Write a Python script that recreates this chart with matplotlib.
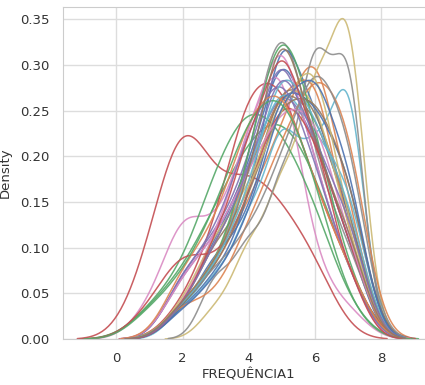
import numpy as np
import matplotlib
matplotlib.use("Agg")
import matplotlib.pyplot as plt
import seaborn as sns

# Frequency values observed (x) and per-group counts of each value
VALUES = [0, 1, 2, 3, 4, 5, 6, 7]

serie_00 = [0, 0, 1, 3, 5, 9, 6, 3]
serie_01 = [0, 0, 1, 2, 4, 6, 9, 4]
serie_02 = [0, 1, 2, 4, 6, 7, 5, 2]
serie_03 = [0, 2, 6, 3, 4, 3, 2, 0]
serie_04 = [0, 0, 2, 3, 5, 8, 6, 3]
serie_05 = [0, 0, 1, 3, 5, 8, 7, 4]
serie_06 = [0, 1, 4, 3, 6, 9, 2, 1]
serie_07 = [0, 0, 1, 2, 5, 11, 5, 3]
serie_08 = [0, 0, 0, 1, 3, 5, 8, 11]
serie_09 = [0, 0, 1, 2, 4, 7, 6, 9]
serie_10 = [0, 0, 1, 2, 4, 10, 7, 4]
serie_11 = [0, 0, 1, 2, 5, 7, 8, 3]
serie_12 = [0, 1, 2, 5, 7, 6, 4, 1]
serie_13 = [0, 0, 1, 3, 7, 7, 4, 2]
serie_14 = [0, 0, 2, 3, 5, 9, 5, 2]
serie_15 = [0, 0, 1, 3, 4, 8, 7, 4]
serie_16 = [0, 0, 1, 3, 6, 9, 5, 2]
serie_17 = [0, 0, 0, 2, 3, 5, 9, 9]
serie_18 = [0, 0, 1, 3, 4, 7, 7, 3]
serie_19 = [0, 0, 1, 2, 5, 8, 6, 5]
serie_20 = [0, 0, 1, 3, 4, 9, 8, 6]
serie_21 = [0, 0, 1, 1, 3, 5, 7, 6]
serie_22 = [0, 0, 1, 2, 5, 10, 6, 2]
serie_23 = [0, 1, 3, 2, 4, 8, 6, 3]
serie_24 = [0, 0, 2, 3, 6, 8, 5, 2]
serie_25 = [0, 0, 1, 2, 4, 7, 7, 5]
serie_26 = [0, 0, 2, 3, 5, 7, 7, 3]
serie_27 = [0, 0, 1, 2, 3, 5, 8, 6]
serie_28 = [0, 0, 1, 2, 4, 6, 8, 3]
serie_29 = [0, 0, 1, 2, 4, 8, 6, 4]
serie_30 = [0, 0, 1, 2, 4, 8, 9, 6]
serie_31 = [0, 0, 2, 3, 6, 7, 4, 2]
serie_32 = [0, 1, 2, 4, 7, 8, 5, 1]
serie_33 = [0, 0, 1, 3, 6, 9, 6, 2]
serie_34 = [0, 0, 1, 3, 5, 9, 6, 4]
serie_35 = [0, 0, 1, 2, 4, 9, 5, 3]

BW_ADJUST = [0.85, 0.85, 0.9, 0.85, 0.85, 0.85, 0.8, 1.0, 0.85, 0.7,
             0.85, 0.85, 0.9, 0.95, 0.85, 0.85, 0.85, 0.75, 0.85, 0.85,
             0.85, 0.85, 1.0, 0.8, 0.85, 0.85, 0.85, 0.8, 0.85, 0.85,
             0.85, 0.85, 0.9, 0.85, 0.85, 0.85]

SERIES = [serie_00, serie_01, serie_02, serie_03, serie_04, serie_05,
          serie_06, serie_07, serie_08, serie_09, serie_10, serie_11,
          serie_12, serie_13, serie_14, serie_15, serie_16, serie_17,
          serie_18, serie_19, serie_20, serie_21, serie_22, serie_23,
          serie_24, serie_25, serie_26, serie_27, serie_28, serie_29,
          serie_30, serie_31, serie_32, serie_33, serie_34, serie_35]

X_TICKS = [0, 2, 4, 6, 8]
Y_TICKS = [0.00, 0.05, 0.10, 0.15, 0.20, 0.25, 0.30, 0.35]

sns.set_style("whitegrid")
plt.rcParams['font.family'] = ['DejaVu Sans']
plt.rcParams['font.size'] = 9.5

palette = sns.color_palette("deep", 10)

fig = plt.figure(figsize=(4.25, 3.85), dpi=100)
ax = fig.add_axes([0.148, 0.119, 0.873, 0.863])

for i, counts in enumerate(SERIES):
    samples = np.repeat(VALUES, counts)
    sns.kdeplot(x=samples, bw_adjust=BW_ADJUST[i], color=palette[i % 10],
                linewidth=1.1, alpha=0.9, ax=ax)

ax.set_xlim(-1.62, 9.6)
ax.set_ylim(0, 0.3635)
ax.set_xticks(X_TICKS)
ax.set_yticks(Y_TICKS)
ax.set_yticklabels([f"{v:.2f}" for v in Y_TICKS])
ax.tick_params(labelsize=9.5, colors="#333333", pad=6)
ax.set_xlabel("FREQUÊNCIA1", fontsize=9.5, color="#333333", labelpad=2)
ax.set_ylabel("Density", fontsize=9.5, color="#333333", labelpad=6)
for s in ax.spines.values():
    s.set_color("#cccccc")
ax.grid(color="#dddddd", linewidth=1.0)

fig.savefig("out.png", dpi=100)
